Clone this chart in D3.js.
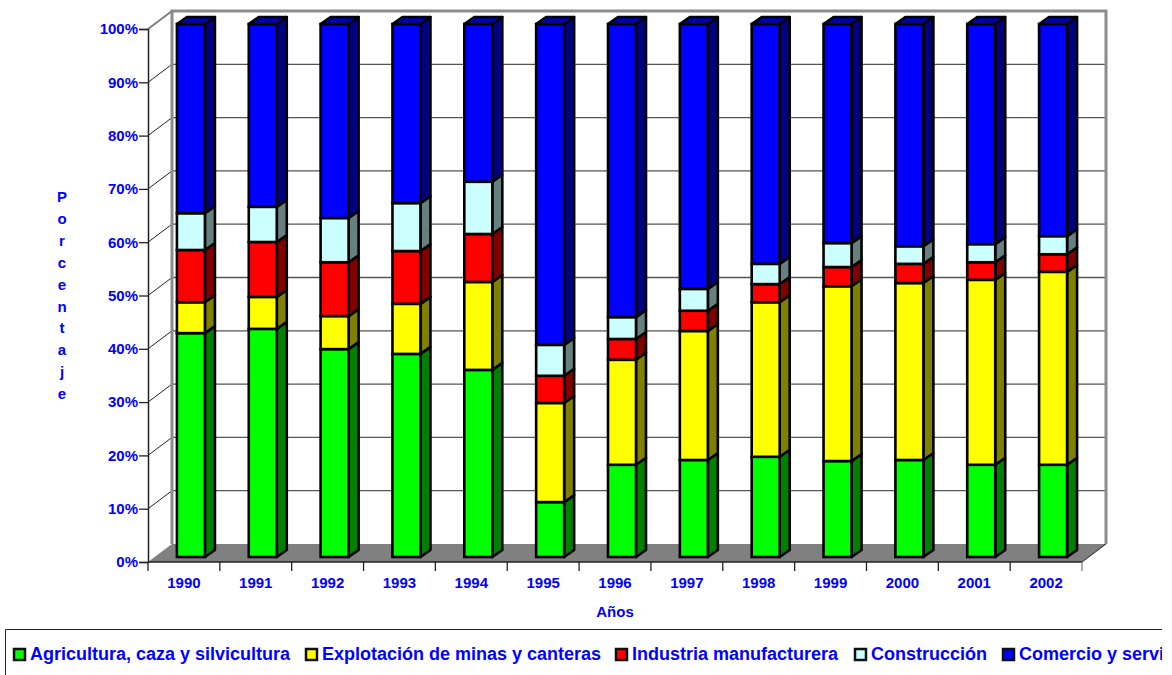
<!DOCTYPE html>
<html>
<head>
<meta charset="utf-8">
<script src="https://cdn.jsdelivr.net/npm/d3@7"></script>
<style>
  body { margin: 0; background: #fff; }
  svg { display: block; }
  text { font-family: "Liberation Sans", Arial, sans-serif; font-weight: bold; fill: #0000ff; }
</style>
</head>
<body>
<svg id="chart" width="1172" height="675"></svg>
<script>
const years = ["1990", "1991", "1992", "1993", "1994", "1995", "1996", "1997", "1998", "1999", "2000", "2001", "2002"];
const percentTicks = [0, 10, 20, 30, 40, 50, 60, 70, 80, 90, 100];

const agricultura = [42.0, 42.8, 39.0, 38.1, 35.1, 10.3, 17.3, 18.2, 18.8, 18.0, 18.2, 17.3, 17.3];
const minas = [5.8, 6.0, 6.2, 9.4, 16.5, 18.6, 19.7, 24.2, 29.0, 32.8, 33.2, 34.7, 36.2];
const industria = [9.8, 10.3, 10.1, 9.9, 9.0, 5.1, 3.9, 3.8, 3.4, 3.6, 3.6, 3.3, 3.3];
const construccion = [6.9, 6.6, 8.3, 9.0, 9.8, 5.8, 4.1, 4.1, 3.8, 4.5, 3.3, 3.4, 3.4];
const comercio = [35.5, 34.3, 36.4, 33.6, 29.6, 60.2, 55.0, 49.7, 45.0, 41.1, 41.7, 41.3, 39.8];

const seriesNames = ["Agricultura, caza y silvicultura", "Explotación de minas y canteras", "Industria manufacturera", "Construcción", "Comercio y servicios"];
const seriesValues = [agricultura, minas, industria, construccion, comercio];
const frontColors = ["#00ff00", "#ffff00", "#ff0000", "#ccffff", "#0000ff"];
const sideColors = ["#008000", "#808000", "#800000", "#668080", "#000080"];

const svg = d3.select("#chart");

const x = d3.scaleBand().domain(years).range([148, 1082]);
const y = d3.scaleLinear().domain([0, 100]).range([562, 29]);

// the 3d look: back wall offset and bar offset
const wallDx = 24, wallDy = -18;
const barShiftX = 7, barShiftY = -5;
const barW = 28, sideDx = 10, sideDy = -7;
const barStroke = 2.6;

const table = years.map((year, i) => {
  const row = { year: year };
  seriesNames.forEach((name, s) => (row[name] = seriesValues[s][i]));
  return row;
});
const stacked = d3.stack().keys(seriesNames)(table);

const x0 = x.range()[0], x1 = x.range()[1];

// floor
svg.append("polygon")
  .attr("points", [[x0, y(0)], [x1, y(0)], [x1 + wallDx, y(0) + wallDy], [x0 + wallDx, y(0) + wallDy]].join(" "))
  .attr("fill", "#808080");

// gridlines, back wall then side wall
const grid = svg.append("g");
grid.selectAll("line.back")
  .data(percentTicks.slice(1, -1))
  .join("line")
  .attr("class", "back")
  .attr("x1", x0 + wallDx).attr("x2", x1 + wallDx)
  .attr("y1", (d) => y(d) + wallDy).attr("y2", (d) => y(d) + wallDy)
  .attr("stroke", "#555").attr("stroke-width", 1.3);
grid.selectAll("line.side")
  .data(percentTicks.slice(1, -1))
  .join("line")
  .attr("class", "side")
  .attr("x1", x0).attr("x2", x0 + wallDx)
  .attr("y1", (d) => y(d)).attr("y2", (d) => y(d) + wallDy)
  .attr("stroke", "#222").attr("stroke-width", 1);

// wall frame
svg.append("polyline")
  .attr("points", [[x0 + wallDx, y(0) + wallDy], [x0 + wallDx, y(100) + wallDy], [x1 + wallDx, y(100) + wallDy], [x1 + wallDx, y(0) + wallDy]].join(" "))
  .attr("fill", "none").attr("stroke", "#8c8c8c").attr("stroke-width", 3);
svg.append("line")
  .attr("x1", x0).attr("y1", y(100))
  .attr("x2", x0 + wallDx).attr("y2", y(100) + wallDy)
  .attr("stroke", "#808080").attr("stroke-width", 2);
svg.append("line")
  .attr("x1", x1).attr("y1", y(0))
  .attr("x2", x1 + wallDx).attr("y2", y(0) + wallDy)
  .attr("stroke", "#222").attr("stroke-width", 1);

// bars
const barLeft = (d) => x(d.data.year) + x.bandwidth() / 2 + barShiftX - barW / 2;

stacked.forEach((layer, s) => {
  const g = svg.append("g");

  g.selectAll("polygon.side")
    .data(layer)
    .join("polygon")
    .attr("class", "side")
    .attr("points", (d) => {
      const r = barLeft(d) + barW;
      const yb = y(d[0]) + barShiftY, yt = y(d[1]) + barShiftY;
      return [[r, yb], [r + sideDx, yb + sideDy], [r + sideDx, yt + sideDy], [r, yt]].join(" ");
    })
    .attr("fill", sideColors[s])
    .attr("stroke", "#000").attr("stroke-width", barStroke).attr("stroke-linejoin", "round");

  g.selectAll("rect")
    .data(layer)
    .join("rect")
    .attr("x", barLeft)
    .attr("y", (d) => y(d[1]) + barShiftY)
    .attr("width", barW)
    .attr("height", (d) => y(d[0]) - y(d[1]))
    .attr("fill", frontColors[s])
    .attr("stroke", "#000").attr("stroke-width", barStroke);

  if (s === stacked.length - 1) {
    g.selectAll("polygon.top")
      .data(layer)
      .join("polygon")
      .attr("class", "top")
      .attr("points", (d) => {
        const l = barLeft(d), yt = y(d[1]) + barShiftY;
        return [[l, yt], [l + barW, yt], [l + barW + sideDx, yt + sideDy], [l + sideDx, yt + sideDy]].join(" ");
      })
      .attr("fill", "#0000b0")
      .attr("stroke", "#000").attr("stroke-width", barStroke).attr("stroke-linejoin", "round");
  }
});

// axes
const yAxis = d3.axisLeft(y).tickValues(percentTicks).tickFormat((d) => d + "%").tickSize(9).tickPadding(1);
const yG = svg.append("g").attr("transform", `translate(${x0},0)`).call(yAxis);
yG.select(".domain").attr("stroke", "#222").attr("stroke-width", 1.5);
yG.selectAll(".tick line").attr("stroke", "#222").attr("stroke-width", 1.3);
yG.selectAll("text").style("font-size", "15px");

const xAxis = d3.axisBottom(x).tickSize(0).tickPadding(15);
const xG = svg.append("g").attr("transform", `translate(0,${y(0)})`).call(xAxis);
xG.select(".domain").remove();
xG.selectAll("text").style("font-size", "15px");

svg.append("line")
  .attr("x1", x0).attr("x2", x1)
  .attr("y1", y(0)).attr("y2", y(0))
  .attr("stroke", "#222").attr("stroke-width", 1.3);
svg.selectAll("line.xtick")
  .data(d3.range(years.length + 1))
  .join("line")
  .attr("class", "xtick")
  .attr("x1", (i) => x0 + i * x.step()).attr("x2", (i) => x0 + i * x.step())
  .attr("y1", y(0)).attr("y2", y(0) + 9)
  .attr("stroke", (i) => (i === years.length ? "#808080" : "#222"))
  .attr("stroke-width", 1.3);

// axis titles
svg.append("text")
  .attr("x", 615).attr("y", 617)
  .attr("text-anchor", "middle")
  .style("font-size", "15px")
  .text("Años");

svg.selectAll("text.ylabel")
  .data("Porcentaje".split(""))
  .join("text")
  .attr("class", "ylabel")
  .attr("x", 62)
  .attr("y", (d, i) => 202 + i * 21.9)
  .attr("text-anchor", "middle")
  .style("font-size", "15px")
  .text((d) => d);

// legend, cut off at the right like the original
svg.append("clipPath").attr("id", "legend-clip")
  .append("rect").attr("x", 0).attr("y", 620).attr("width", 1162).attr("height", 55);

const legend = svg.append("g").attr("clip-path", "url(#legend-clip)");
legend.append("path")
  .attr("d", "M5.5,675V629.5H1162")
  .attr("fill", "none").attr("stroke", "#222").attr("stroke-width", 1);

const legendSwatchX = [14, 306, 616, 855, 1003];
seriesNames.forEach((name, s) => {
  legend.append("rect")
    .attr("x", legendSwatchX[s]).attr("y", 649)
    .attr("width", 11).attr("height", 11)
    .attr("fill", frontColors[s])
    .attr("stroke", "#111").attr("stroke-width", 2.5);
  legend.append("text")
    .attr("x", legendSwatchX[s] + 16).attr("y", 660)
    .style("font-size", "18px")
    .text(name);
});
</script>
</body>
</html>
